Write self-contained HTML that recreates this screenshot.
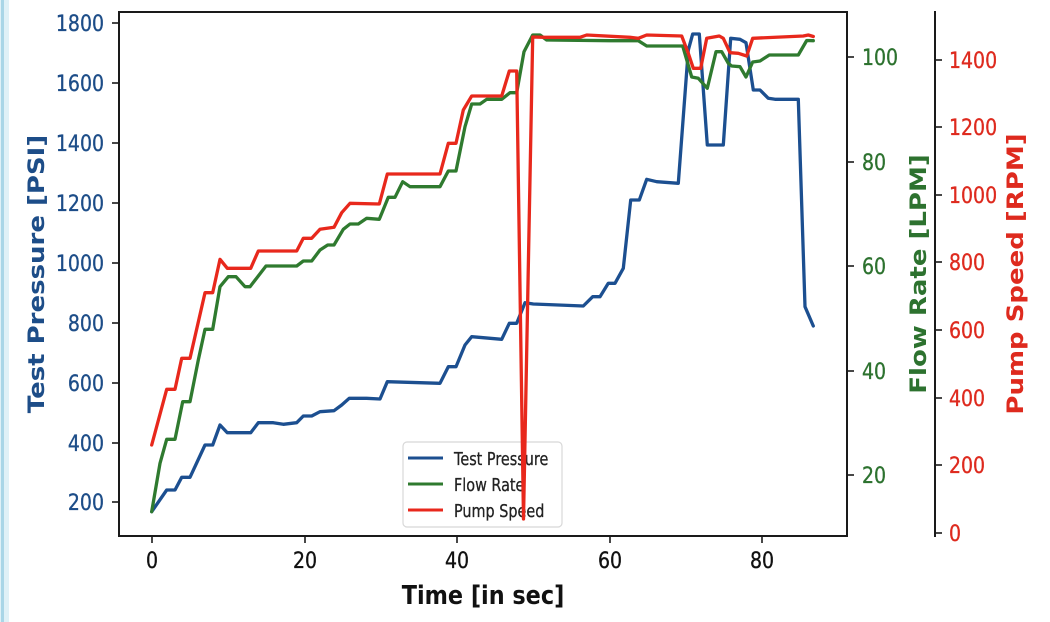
<!DOCTYPE html>
<html>
<head>
<meta charset="utf-8">
<style>
  html,body{margin:0;padding:0;background:#fff;}
  body{width:1050px;height:622px;overflow:hidden;position:relative;}
  svg{position:absolute;left:0;top:0;}
  text{font-family:"DejaVu Sans","Liberation Sans",sans-serif;}
</style>
</head>
<body>
<svg width="1050" height="622" viewBox="0 0 1050 622" xmlns="http://www.w3.org/2000/svg">
  <rect x="0" y="0" width="1050" height="622" fill="#ffffff"/>
  <!-- left light-blue strip -->
  <rect x="0" y="0" width="9" height="622" fill="#dff1f7"/>
  <rect x="1" y="0" width="3" height="622" fill="#a9d6e7"/>

  <!-- main axes box -->
  <rect x="119" y="12" width="728" height="524" fill="none" stroke="#1a1a1a" stroke-width="2"/>
  <!-- third spine -->
  <line x1="935" y1="11" x2="935" y2="537" stroke="#1a1a1a" stroke-width="2"/>

  <g stroke="#1a1a1a" stroke-width="1.6">
    <line x1="112" y1="23" x2="119" y2="23"/>
    <line x1="112" y1="83" x2="119" y2="83"/>
    <line x1="112" y1="143" x2="119" y2="143"/>
    <line x1="112" y1="203" x2="119" y2="203"/>
    <line x1="112" y1="263" x2="119" y2="263"/>
    <line x1="112" y1="323" x2="119" y2="323"/>
    <line x1="112" y1="383" x2="119" y2="383"/>
    <line x1="112" y1="443" x2="119" y2="443"/>
    <line x1="112" y1="502" x2="119" y2="502"/>
    <line x1="847" y1="57" x2="854" y2="57"/>
    <line x1="847" y1="162" x2="854" y2="162"/>
    <line x1="847" y1="266" x2="854" y2="266"/>
    <line x1="847" y1="371" x2="854" y2="371"/>
    <line x1="847" y1="475" x2="854" y2="475"/>
    <line x1="935" y1="60" x2="942" y2="60"/>
    <line x1="935" y1="127" x2="942" y2="127"/>
    <line x1="935" y1="195" x2="942" y2="195"/>
    <line x1="935" y1="262" x2="942" y2="262"/>
    <line x1="935" y1="330" x2="942" y2="330"/>
    <line x1="935" y1="398" x2="942" y2="398"/>
    <line x1="935" y1="465" x2="942" y2="465"/>
    <line x1="935" y1="533" x2="942" y2="533"/>
    <line x1="152" y1="536" x2="152" y2="543"/>
    <line x1="305" y1="536" x2="305" y2="543"/>
    <line x1="457" y1="536" x2="457" y2="543"/>
    <line x1="610" y1="536" x2="610" y2="543"/>
    <line x1="762" y1="536" x2="762" y2="543"/>
  </g>

  <g fill="#1d4d88" stroke="#1d4d88" stroke-width="0.35" font-size="22" text-anchor="end">
    <text transform="translate(104,31) scale(0.86,1)">1800</text>
    <text transform="translate(104,91) scale(0.86,1)">1600</text>
    <text transform="translate(104,151) scale(0.86,1)">1400</text>
    <text transform="translate(104,211) scale(0.86,1)">1200</text>
    <text transform="translate(104,271) scale(0.86,1)">1000</text>
    <text transform="translate(104,331) scale(0.86,1)">800</text>
    <text transform="translate(104,391) scale(0.86,1)">600</text>
    <text transform="translate(104,451) scale(0.86,1)">400</text>
    <text transform="translate(104,510) scale(0.86,1)">200</text>
  </g>
  <g fill="#2d722f" stroke="#2d722f" stroke-width="0.35" font-size="22" text-anchor="start">
    <text transform="translate(862,65) scale(0.86,1)">100</text>
    <text transform="translate(862,170) scale(0.86,1)">80</text>
    <text transform="translate(862,274) scale(0.86,1)">60</text>
    <text transform="translate(862,379) scale(0.86,1)">40</text>
    <text transform="translate(862,483) scale(0.86,1)">20</text>
  </g>
  <g fill="#de2a1e" stroke="#de2a1e" stroke-width="0.35" font-size="22" text-anchor="start">
    <text transform="translate(949,68) scale(0.86,1)">1400</text>
    <text transform="translate(949,135) scale(0.86,1)">1200</text>
    <text transform="translate(949,203) scale(0.86,1)">1000</text>
    <text transform="translate(949,270) scale(0.86,1)">800</text>
    <text transform="translate(949,338) scale(0.86,1)">600</text>
    <text transform="translate(949,406) scale(0.86,1)">400</text>
    <text transform="translate(949,473) scale(0.86,1)">200</text>
    <text transform="translate(949,541) scale(0.86,1)">0</text>
  </g>
  <g fill="#111" stroke="#111" stroke-width="0.35" font-size="22" text-anchor="middle">
    <text transform="translate(152,568) scale(0.86,1)">0</text>
    <text transform="translate(305,568) scale(0.86,1)">20</text>
    <text transform="translate(457,568) scale(0.86,1)">40</text>
    <text transform="translate(610,568) scale(0.86,1)">60</text>
    <text transform="translate(762,568) scale(0.86,1)">80</text>
  </g>

  <text transform="translate(483,604) scale(0.86,1)" text-anchor="middle" font-size="26" font-weight="bold" fill="#111">Time [in sec]</text>
  <text transform="translate(44,274) scale(0.86,1) rotate(-90)" text-anchor="middle" font-size="26" font-weight="bold" fill="#1d4d88">Test Pressure [PSI]</text>
  <text transform="translate(926,274) scale(0.86,1) rotate(-90)" text-anchor="middle" font-size="26" font-weight="bold" fill="#2d722f">Flow Rate [LPM]</text>
  <text transform="translate(1023,274) scale(0.86,1) rotate(-90)" text-anchor="middle" font-size="26" font-weight="bold" fill="#de2a1e">Pump Speed [RPM]</text>

  <polyline fill="none" stroke="#1c4f90" stroke-width="3.3" stroke-linejoin="round" stroke-linecap="round"
    points="151.7,511.7 166.7,490 175,490 181.7,477.3 190,477.3 205,445 212.7,445 220,425 227.3,432.7 250.7,432.7 258.3,422.7 273.3,422.7 283.3,424.3 296.7,422.7 303.3,416 311.7,416 320,411.7 334,410.7 341.7,405 349.3,398.3 366.7,398.3 380,399 387.3,381.7 440,383.3 448.3,366.7 456,366.7 465,345 471.7,336.7 501.7,339.3 509.3,323.3 516.7,323.3 525,302.7 533.3,304 583.3,306 592.7,296.7 600,296.7 608.3,283.3 615,283.3 623.3,268.3 630.7,200 639.3,200 646.7,179.3 656.7,181.7 678.3,183.3 688.3,50 692.7,34 699.3,34 707.3,145 723.3,145 730.7,38.3 740,39.3 746,42.7 753.3,90 760,90 768.3,98.3 775,99.3 798.3,99.3 805,306.7 813.3,326"/>

  <rect x="403" y="442" width="159" height="85" rx="4" ry="4" fill="#ffffff" fill-opacity="0.85" stroke="#d8d8d8" stroke-width="1.2"/>
  <line x1="408" y1="458" x2="443" y2="458" stroke="#1c4f90" stroke-width="3"/>
  <line x1="408" y1="484" x2="443" y2="484" stroke="#2f7a2f" stroke-width="3"/>
  <line x1="408" y1="510" x2="443" y2="510" stroke="#e8281c" stroke-width="3"/>
  <g fill="#222" stroke="#222" stroke-width="0.3" font-size="18">
    <text transform="translate(454,465) scale(0.8,1)">Test Pressure</text>
    <text transform="translate(454,491) scale(0.8,1)">Flow Rate</text>
    <text transform="translate(454,517) scale(0.8,1)">Pump Speed</text>
  </g>

  <polyline fill="none" stroke="#2f7a2f" stroke-width="3.3" stroke-linejoin="round" stroke-linecap="round"
    points="151.7,511.7 160,463.3 166.7,439.3 175,439.3 182.7,401.7 190,401.7 198.3,360 205,329.3 212.7,329.3 220,286.7 228.3,276.7 236,276.7 245,286.7 250,286.7 266,266 296.7,266 303.3,261 311.7,261 320,250 327.7,245 334,245 343.3,229.3 350,224 358.3,224 366.7,218.3 379.3,219.3 388.3,197.3 395,197.3 402.7,181.7 410,186.7 440,186.7 448.3,171 456,171 465,126.7 471.7,104 480,104 486.7,99.3 501.7,99.3 510,92.7 516.7,92.7 524,51.7 532.7,35 540,35 546.7,40 610,40.7 638.3,40.7 646.7,46 682.7,46 691.7,77 698.3,78.3 707.3,88.3 716,51.7 721.7,51.7 728.3,63.3 731.7,66 740,66.7 746,77 752.7,62 760,61 769.3,55 798.3,55 806.7,40.5 813.3,40.7"/>

  <polyline fill="none" stroke="#e8281c" stroke-width="3.3" stroke-linejoin="round" stroke-linecap="round"
    points="151.7,445 166.7,389.3 175,389.3 181.7,358.3 190,358.3 205,292.7 212.7,292.7 220,259.3 227.3,268.3 250.7,268.3 258.3,251 296.7,251 303.3,238.3 311.7,238.3 320,229.3 334,227.3 341.7,212.7 350,203.3 379.3,204 387.3,174 440,174 448.3,143.3 456,143.3 463.3,110 471.7,96 501.7,96 509.3,71 516.7,71 523.5,519 532.7,37 545,37.3 580,37.3 586.7,35 630,37.3 638.3,38.3 646.7,35 681.7,36 688.3,53.3 693.3,68.3 700.7,68.3 706.7,38.3 719.3,36 723.3,38.3 730,52.7 738.3,53.3 746.7,56 752.7,38.3 803.3,36 808.3,35 813.3,36.5"/>
</svg>
</body>
</html>
